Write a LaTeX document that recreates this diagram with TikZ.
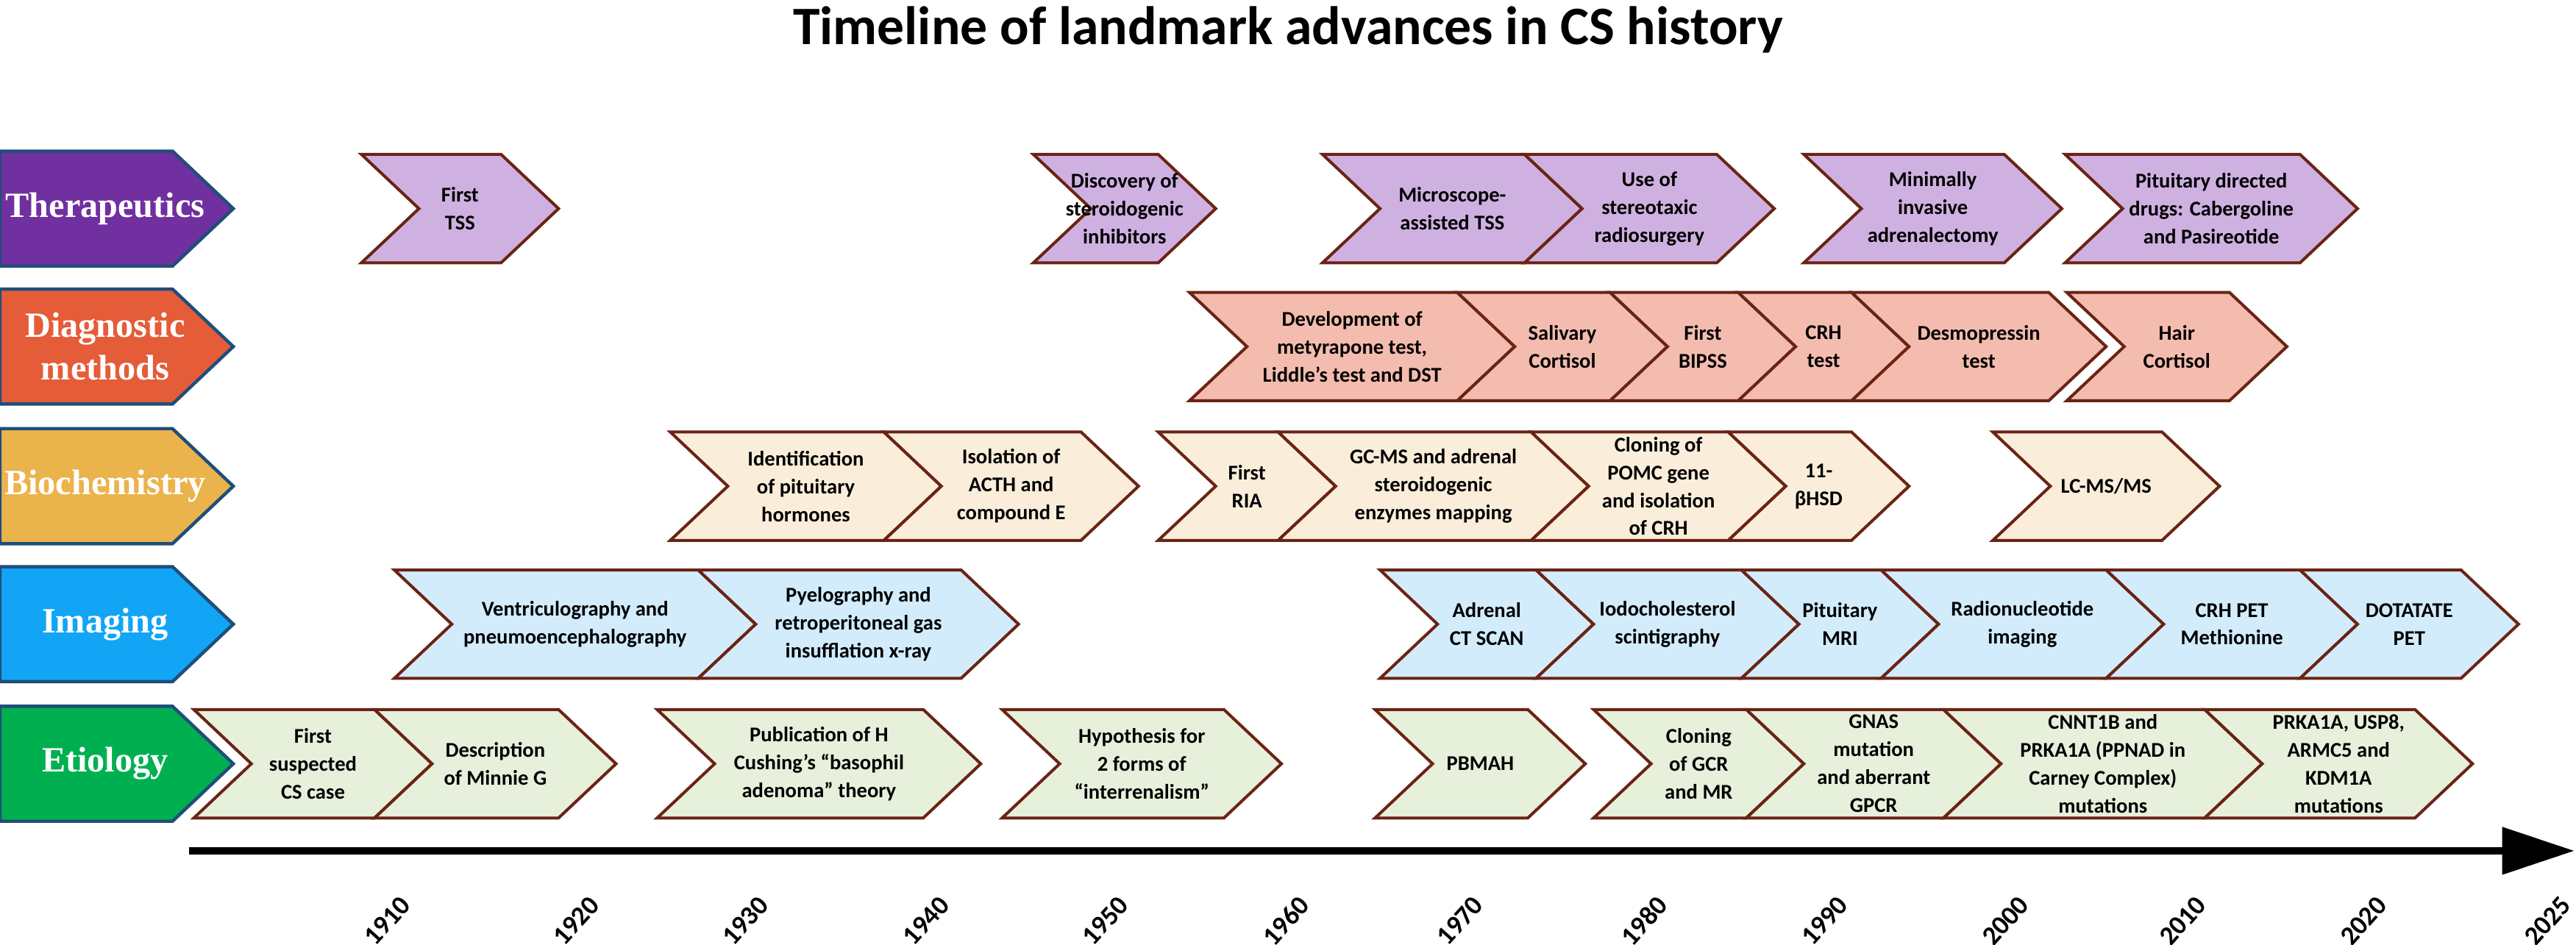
\documentclass[tikz,border=0pt]{standalone}
\usepackage{fontspec}
\setmainfont{Carlito}
\newfontfamily\catfont{Liberation Serif}
\usetikzlibrary{arrows.meta}
\definecolor{evline}{HTML}{6B2314}
\definecolor{cline}{HTML}{1F4E79}
\definecolor{k1}{HTML}{7030A0}
\definecolor{k2}{HTML}{E55C38}
\definecolor{k3}{HTML}{EBB34C}
\definecolor{k4}{HTML}{12A5F6}
\definecolor{k5}{HTML}{00B050}
\definecolor{cT}{HTML}{CFB1E1}
\definecolor{cD}{HTML}{F4BCAE}
\definecolor{cB}{HTML}{FAEEDA}
\definecolor{cI}{HTML}{D2ECFC}
\definecolor{cE}{HTML}{E6F0DB}
\newcommand\evt[6]{%
  \draw[evt,fill=#4] (#2,#5-33) -- (#3,#5-33) -- (#3+35,#5) -- (#3,#5+33) -- (#2,#5+33) -- (#2+35,#5) -- cycle;
  \node[evtxt] (#1) at ({(#2+#3)/2+17.5},#5) {#6};}
\newcommand\cat[4]{%
  \draw[catln,fill=#3] (0,#2-35) -- (105,#2-35) -- (142,#2) -- (105,#2+35) -- (0,#2+35) -- cycle;
  \node[cattxt] (#1) at (64,#2) {#4};}
\begin{document}
\begin{tikzpicture}[x=0.5pt,y=-0.5pt,
  evt/.style={draw=evline,line width=0.9pt,line join=miter},
  catln/.style={draw=cline,line width=1pt},
  evtxt/.style={font=\fontsize{6.4}{8.5}\selectfont\bfseries,align=center,inner sep=0},
  cattxt/.style={font=\catfont\fontsize{10.8}{13}\selectfont\bfseries,text=white,align=center,inner sep=0},
  yr/.style={font=\fontsize{8.2}{9}\selectfont\bfseries,rotate=48,anchor=east,inner sep=0}]
\useasboundingbox (0,0) rectangle (1568,575);
\node[font=\fontsize{16.5}{19}\selectfont\bfseries] (title) at (784,18) {Timeline of landmark advances in CS history};
% categories
\cat{c1}{127}{k1}{Therapeutics}
\cat{c2}{211}{k2}{Diagnostic\\methods}
\cat{c3}{296}{k3}{Biochemistry}
\cat{c4}{380}{k4}{Imaging}
\cat{c5}{465}{k5}{Etiology}
% Therapeutics
\evt{t1}{220}{305}{cT}{127}{First\\TSS}
\evt{t2}{629}{705}{cT}{127}{Discovery of\\steroidogenic\\inhibitors}
\evt{t3}{805}{928}{cT}{127}{Microscope-\\assisted TSS}
\evt{t4}{928}{1045}{cT}{127}{Use of\\stereotaxic\\radiosurgery}
\evt{t5}{1098}{1220}{cT}{127}{Minimally\\invasive\\adrenalectomy}
\evt{t6}{1257}{1400}{cT}{127}{Pituitary directed\\drugs: Cabergoline\\and Pasireotide}
% Diagnostic
\evt{d1}{724}{887}{cD}{211}{Development of\\metyrapone test,\\Liddle’s test and DST}
\evt{d2}{887}{980}{cD}{211}{Salivary\\Cortisol}
\evt{d3}{980}{1058}{cD}{211}{First\\BIPSS}
\evt{d4}{1058}{1127}{cD}{211}{CRH\\test}
\evt{d5}{1127}{1247}{cD}{211}{Desmopressin\\test}
\evt{d6}{1258}{1357}{cD}{211}{Hair\\Cortisol}
% Biochemistry
\evt{b1}{408}{538}{cB}{296}{Identification\\of pituitary\\hormones}
\evt{b2}{538}{658}{cB}{296}{Isolation of\\ACTH and\\compound E}
\evt{b3}{705}{778}{cB}{296}{First\\RIA}
\evt{b4}{778}{932}{cB}{296}{GC-MS and adrenal\\steroidogenic\\enzymes mapping}
\evt{b5}{932}{1052}{cB}{296}{Cloning of\\POMC gene\\and isolation\\of CRH}
\evt{b6}{1052}{1127}{cB}{296}{11-\\βHSD}
\evt{b7}{1213}{1316}{cB}{296}{LC-MS/MS}
% Imaging
\evt{i1}{240}{425}{cI}{380}{Ventriculography and\\pneumoencephalography}
\evt{i2}{425}{585}{cI}{380}{Pyelography and\\retroperitoneal gas\\insufflation x-ray}
\evt{i3}{840}{935}{cI}{380}{Adrenal\\CT SCAN}
\evt{i4}{935}{1060}{cI}{380}{Iodocholesterol\\scintigraphy}
\evt{i5}{1060}{1145}{cI}{380}{Pituitary\\MRI}
\evt{i6}{1145}{1282}{cI}{380}{Radionucleotide\\imaging}
\evt{i7}{1282}{1400}{cI}{380}{CRH PET\\Methionine}
\evt{i8}{1400}{1498}{cI}{380}{DOTATATE\\PET}
% Etiology
\evt{e1}{118}{228}{cE}{465}{First\\suspected\\CS case}
\evt{e2}{228}{340}{cE}{465}{Description\\of Minnie G}
\evt{e3}{400}{562}{cE}{465}{Publication of H\\Cushing’s “basophil\\adenoma”  theory}
\evt{e4}{610}{745}{cE}{465}{Hypothesis for\\2 forms of\\“interrenalism”}
\evt{e5}{837}{930}{cE}{465}{PBMAH}
\evt{e6}{970}{1063}{cE}{465}{Cloning\\of GCR\\and MR}
\evt{e7}{1063}{1183}{cE}{465}{GNAS\\mutation\\and aberrant\\GPCR}
\evt{e8}{1183}{1342}{cE}{465}{CNNT1B and\\PRKA1A (PPNAD in\\Carney Complex)\\mutations}
\evt{e9}{1342}{1470}{cE}{465}{PRKA1A, USP8,\\ARMC5 and\\KDM1A\\mutations}
% axis
\coordinate (a0) at (115,518);
\coordinate (a1) at (1567,518);
\draw[line width=2.2pt,-{Triangle[length=22pt,width=14pt]}] (a0) -- (a1);
\foreach \x/\y in {247/1910,362/1920,465/1930,575/1940,684/1950,794/1960,900/1970,1012/1980,1122/1990,1232/2000,1340/2010,1450/2020,1562/2025}
  \node[yr] (y\y) at (\x,548) {\y};
\end{tikzpicture}
\end{document}
